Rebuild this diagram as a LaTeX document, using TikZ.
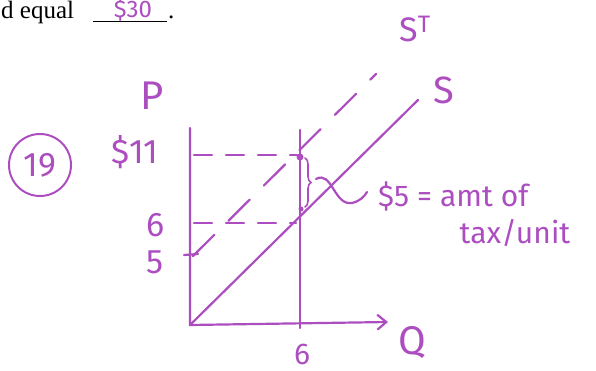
\documentclass[tikz,border=0pt]{standalone}
\usepackage{fontspec}
\setmainfont{Liberation Serif}
\newfontfamily\handfont{Fira Sans}
\usetikzlibrary{arrows.meta,decorations.pathreplacing}
\definecolor{pen}{RGB}{172,78,192}
\tikzset{
  ink/.style={draw=pen,line width=2.2pt,line cap=round},
  hand/.style={text=pen,font=\handfont\fontsize{#1}{#1}\selectfont,inner sep=0pt},
  hand/.default=32,
  gapline/.style={ink,dash pattern=on 18pt off 14pt},
  shiftline/.style={ink,dash pattern=on 30pt off 20pt},
}
\begin{document}
\begin{tikzpicture}[x=1pt,y=-1pt]
  \useasboundingbox (0,0) rectangle (596,371);
  \clip (0,0) rectangle (596,371);
  \node[anchor=base west,inner sep=0pt,font=\fontsize{25}{28}\selectfont] (deq) at (1,19) {d equal};
  \coordinate (ulA) at (93,22);
  \coordinate (ulB) at (167,22);
  \draw[line width=1pt] (ulA) -- (ulB);
  \node[anchor=base west,inner sep=0pt,font=\fontsize{25}{28}\selectfont] (enddot) at (168,19) {.};
  \node[hand=24,anchor=base] (ans) at (133,18) {\$30};
  \node[draw=pen,line width=2pt,circle,minimum size=62pt,hand=34] (qnum) at (40,165) {19};
  \coordinate (O) at (190,325);
  \coordinate (Ptop) at (190,128);
  \coordinate (Qtip) at (388,322);
  \coordinate (vtop) at (300,130);
  \coordinate (vbot) at (300,328);
  \coordinate (Send) at (418,100);
  \coordinate (STa) at (193,256);
  \coordinate (STb) at (376,74);
  \coordinate (tkA) at (184,255);
  \coordinate (tkB) at (198,254);
  \coordinate (hiA) at (194,155);
  \coordinate (hiB) at (298,155);
  \coordinate (loA) at (194,223);
  \coordinate (loB) at (296,223);
  \coordinate (bA) at (305,158);
  \coordinate (bB) at (305,207);
  \coordinate (btip) at (316,179);
  \coordinate (sqend) at (367,192);
  \draw[ink,-{Straight Barb[length=9pt,width=15pt]}] (Ptop) -- (O) -- (Qtip);
  \draw[ink] (vtop) -- (vbot);
  \draw[ink] (O) -- (Send);
  \draw[shiftline] (STa) -- (STb);
  \draw[ink] (tkA) -- (tkB);
  \draw[gapline] (hiA) -- (hiB);
  \draw[gapline] (loA) -- (loB);
  \fill[pen] (300,157) circle (3.5);
  \fill[pen] (301,209) circle (2.5);
  \draw[ink,line width=1.6pt,decorate,decoration={brace,amplitude=6pt}] (bA) -- (bB);
  \draw[ink] (btip) .. controls (332,170) and (334,206) .. (352,203) .. controls (360,201) and (364,197) .. (sqend);
  \node[hand=40] (plbl) at (152,96) {P};
  \node[hand=34] (elevlbl) at (135,152) {\$11};
  \node[hand=34] (sixlbl) at (156,225) {6};
  \node[hand=34] (fivelbl) at (155,262) {5};
  \node[hand=30] (qsixlbl) at (302,354) {6};
  \node[hand=40] (qlbl) at (412,343) {Q};
  \node[hand=38] (slbl) at (444,90) {S};
  \node[hand=34] (stlbl) at (415,29) {S\textsuperscript{T}};
  \node[hand=30,anchor=west] (taxlbl) at (378,196) {\$5 = amt of};
  \node[hand=30] (unitlbl) at (515,233) {tax/unit};
\end{tikzpicture}
\end{document}
